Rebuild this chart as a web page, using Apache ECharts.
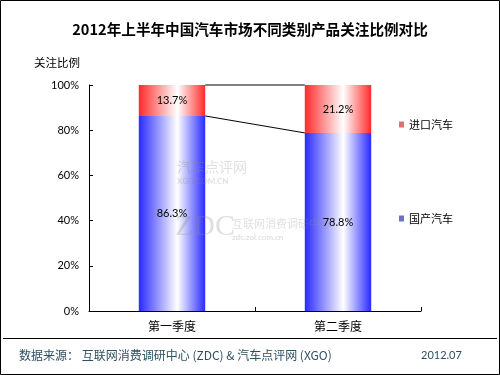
<!DOCTYPE html>
<html><head><meta charset="utf-8">
<script src="https://cdn.jsdelivr.net/npm/echarts@6/dist/echarts.min.js"></script>
<style>html,body{margin:0;padding:0;background:#fff}#c{width:500px;height:375px}</style>
</head><body><div id="c"></div>
<script>
var categories = ['第一季度', '第二季度'];
var domestic = [86.3, 78.8];
var imported = [13.7, 21.2];
var yTicks = [0, 20, 40, 60, 80, 100];

var FONT = '"Noto Sans CJK SC", sans-serif';
var NUMFONT = 'Lato, "Noto Sans CJK SC", sans-serif';
var barFrac = 0.4;

function grad(edge) {
  return new echarts.graphic.LinearGradient(0, 0, 1, 0, [
    {offset: 0, color: edge},
    {offset: 0.58, color: '#ffffff'},
    {offset: 1, color: edge}
  ]);
}

var connectors = [];
for (var i = 0; i < categories.length - 1; i++) {
  connectors.push([i, domestic[i], i + 1, domestic[i + 1]]);
  connectors.push([i, domestic[i] + imported[i], i + 1, domestic[i + 1] + imported[i + 1]]);
}

var WM = 'rgba(140,140,140,0.28)';
var chart = echarts.init(document.getElementById('c'), null, {renderer: 'canvas'});
chart.setOption({
  animation: false,
  backgroundColor: '#fff',
  title: {
    text: '2012年上半年中国汽车市场不同类别产品关注比例对比',
    left: 'center', top: 17,
    textStyle: {fontFamily: FONT, fontSize: 14.6, fontWeight: 'bold', color: '#000'}
  },
  legend: {
    orient: 'vertical', left: 394, top: 114, itemGap: 83,
    itemWidth: 5, itemHeight: 6, icon: 'rect',
    textStyle: {fontFamily: FONT, fontSize: 11, color: '#000'},
    data: [
      {name: '进口汽车', itemStyle: {color: '#e07070'}},
      {name: '国产汽车', itemStyle: {color: '#7070c8'}}
    ]
  },
  grid: {left: 89, right: 79, top: 85, bottom: 64},
  xAxis: {
    type: 'category', data: categories,
    axisLine: {lineStyle: {color: '#000', width: 1}},
    axisTick: {show: true, length: 4, inside: true, lineStyle: {color: '#000'}},
    axisLabel: {fontFamily: FONT, fontSize: 12, color: '#000', margin: 9}
  },
  yAxis: {
    type: 'value', min: 0, max: 100, interval: 20,
    name: '关注比例', nameLocation: 'end', nameGap: 17,
    nameTextStyle: {fontFamily: FONT, fontSize: 11.5, color: '#000', align: 'right', padding: [0, 9, 0, 0]},
    axisLine: {show: true, lineStyle: {color: '#000', width: 1}},
    axisTick: {show: true, length: 4, inside: true, lineStyle: {color: '#000'}},
    splitLine: {show: false},
    axisLabel: {fontFamily: NUMFONT, fontSize: 11, color: '#000', margin: 10,
      formatter: function (v) { return yTicks.indexOf(v) >= 0 ? v + '%' : ''; }}
  },
  series: [
    {
      name: '国产汽车', type: 'bar', stack: 'total', barWidth: (barFrac * 100) + '%',
      data: domestic,
      itemStyle: {color: grad('#2a2aff')},
      label: {show: true, position: 'inside', fontFamily: NUMFONT, fontSize: 11, color: '#000',
        formatter: function (p) { return p.value.toFixed(1) + '%'; }}
    },
    {
      name: '进口汽车', type: 'bar', stack: 'total', barWidth: (barFrac * 100) + '%',
      data: imported,
      itemStyle: {color: grad('#ff2a2a')},
      label: {show: true, position: 'inside', fontFamily: NUMFONT, fontSize: 11, color: '#000',
        formatter: function (p) { return p.value.toFixed(1) + '%'; }}
    },
    {
      type: 'custom', silent: true, z: 10, clip: false,
      data: connectors,
      renderItem: function (params, api) {
        var p1 = api.coord([api.value(0), api.value(1)]);
        var p2 = api.coord([api.value(2), api.value(3)]);
        var half = api.size([1, 0])[0] * barFrac / 2;
        return {
          type: 'line',
          shape: {x1: p1[0] + half, y1: p1[1], x2: p2[0] - half, y2: p2[1]},
          style: {stroke: '#000', lineWidth: 1}
        };
      }
    }
  ],
  graphic: [
    {type: 'rect', shape: {x: 0.5, y: 0.5, width: 499, height: 374}, style: {fill: null, stroke: '#000', lineWidth: 1}, silent: true},
    {type: 'line', shape: {x1: 3, y1: 338.5, x2: 497, y2: 338.5}, style: {stroke: '#000', lineWidth: 1}},
    {type: 'text', left: 19, top: 349, style: {text: '数据来源： 互联网消费调研中心 (ZDC) & 汽车点评网 (XGO)', font: '12px ' + FONT, fill: '#2f5060'}},
    {type: 'text', left: 421, top: 350, style: {text: '2012.07', font: '11px ' + NUMFONT, fill: '#2f5060'}},
    {type: 'text', left: 177, top: 160, z: 100, silent: true, style: {text: '汽车点评网', font: '14px ' + FONT, fill: WM}},
    {type: 'text', left: 177, top: 177, z: 100, silent: true, style: {text: 'XGO.COM.CN', font: 'bold 8px ' + NUMFONT, fill: WM}},
    {type: 'text', left: 175, top: 212, z: 100, silent: true, style: {text: 'ZDC', font: '30px serif', fill: WM}},
    {type: 'text', left: 232, top: 218, z: 100, silent: true, style: {text: '互联网消费调研中心', font: '11px ' + FONT, fill: WM}},
    {type: 'text', left: 232, top: 233, z: 100, silent: true, style: {text: 'zdc.zol.com.cn', font: 'bold 8px ' + NUMFONT, fill: WM}}
  ]
});
</script>
</body></html>
